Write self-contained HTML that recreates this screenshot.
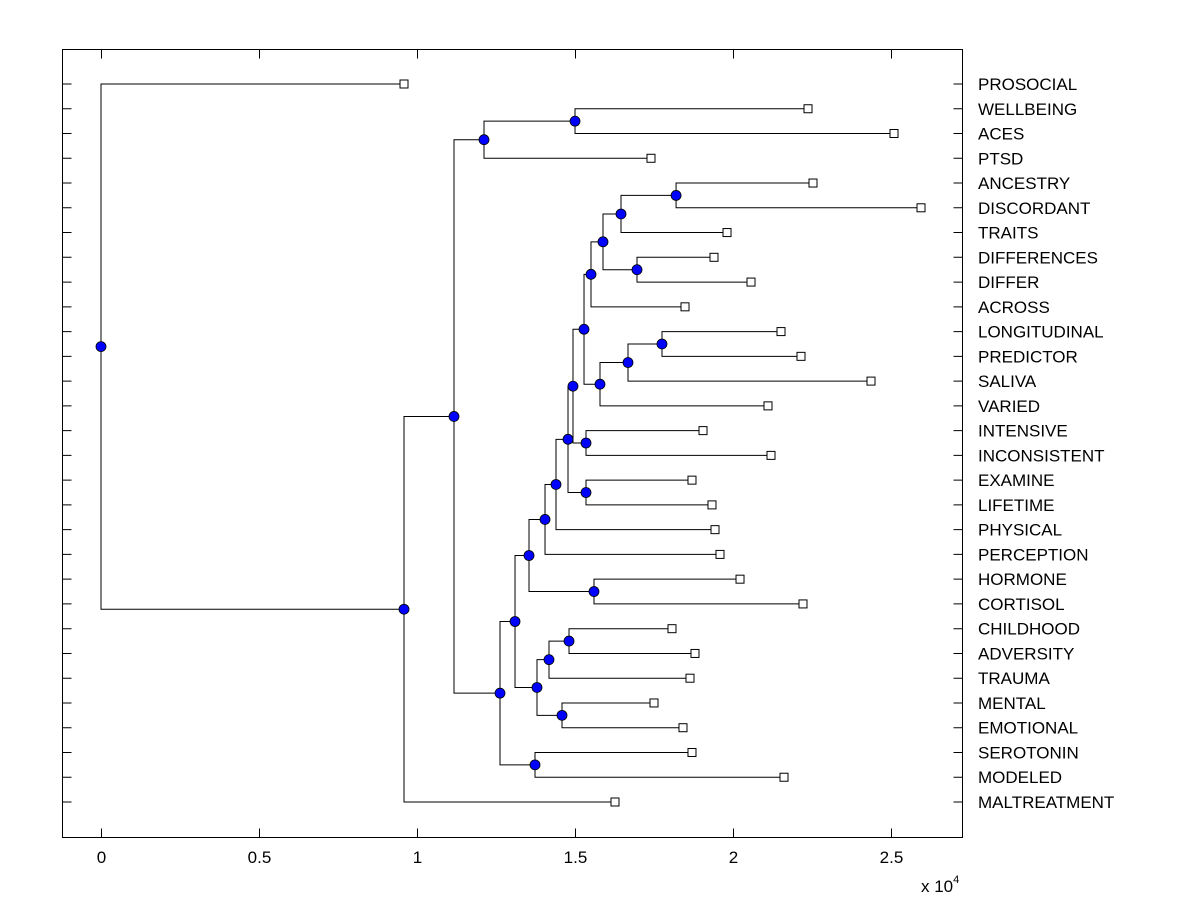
<!DOCTYPE html>
<html><head><meta charset="utf-8"><style>
body{margin:0;background:#fff;}
svg text{font-family:"Liberation Sans",Arial,sans-serif;font-size:17px;fill:#000;}
</style></head><body>
<svg id="chart" width="1200" height="900" xmlns="http://www.w3.org/2000/svg">
<rect x="0" y="0" width="1200" height="900" fill="#fff"/>
<g id="links"></g>
<g id="marks"></g>
<rect x="62.5" y="49.5" width="900" height="788" fill="none" stroke="#000" stroke-width="1"/>
<g id="axes"></g>
<text x="921" y="892" font-size="16">x 10<tspan dy="-9" font-size="11">4</tspan></text>
</svg>
<script>
const leafLabels = ["PROSOCIAL","WELLBEING","ACES","PTSD","ANCESTRY","DISCORDANT","TRAITS","DIFFERENCES","DIFFER","ACROSS","LONGITUDINAL","PREDICTOR","SALIVA","VARIED","INTENSIVE","INCONSISTENT","EXAMINE","LIFETIME","PHYSICAL","PERCEPTION","HORMONE","CORTISOL","CHILDHOOD","ADVERSITY","TRAUMA","MENTAL","EMOTIONAL","SEROTONIN","MODELED","MALTREATMENT"];
const leafValues = [9595,22388,25111,17416,22546,25966,19823,19411,20583,18493,21533,22166,24383,21121,19063,21216,18714,19347,19443,19601,20235,22229,18081,18809,18651,17511,18429,18714,21628,16276];
const mergeLeft  = [4,30,7,31,33,10,35,36,34,14,38,16,40,42,43,20,44,22,47,25,48,46,27,51,1,54,55,56,0];
const mergeRight = [5,6,8,32,9,11,12,13,37,15,39,17,41,18,19,21,45,23,24,26,49,50,28,52,2,3,53,29,57];
const mergeHeight= [18210,16466,16973,15896,15516,17764,16688,15801,15295,15358,14946,15358,14788,14408,14060,15611,13553,14820,14186,14598,13806,13110,13743,12635,15010,12128,11178,9595,0];
const xTicks = [0,5000,10000,15000,20000,25000];
const xTickLabels = ["0","0.5","1","1.5","2","2.5"];

const NS="http://www.w3.org/2000/svg";
const X0=101, XS=315.8/10000, Y0=84, YS=(802-84)/29;
const xs=v=>X0+v*XS, ys=i=>Y0+i*YS;
function mk(tag,attrs,parent){const e=document.createElementNS(NS,tag);for(const k in attrs)e.setAttribute(k,attrs[k]);parent.appendChild(e);return e;}
const links=document.getElementById('links'), marks=document.getElementById('marks'), axes=document.getElementById('axes');
const nx=[], ny=[];
leafValues.forEach((v,i)=>{nx[i]=xs(v);ny[i]=ys(i);});
const n=leafValues.length;
mergeHeight.forEach((h,k)=>{
  const id=n+k,a=mergeLeft[k],b=mergeRight[k];
  nx[id]=xs(h);ny[id]=(ny[a]+ny[b])/2;
  const p=mk('path',{d:`M${nx[a]} ${ny[a]}H${nx[id]}V${ny[b]}H${nx[b]}`,fill:'none',stroke:'#000','stroke-width':1},links);
  
  
});
leafValues.forEach((v,i)=>{
  const r=mk('rect',{x:nx[i]-4,y:ny[i]-4,width:8,height:8,fill:'#fff',stroke:'#000','stroke-width':1},marks);
  
  
  const t=mk('text',{x:978,y:ny[i]+6},axes);t.textContent=leafLabels[i];
  
  
  const tk=mk('path',{d:`M62.5 ${ny[i]}h9M962.5 ${ny[i]}h-9`,stroke:'#000','stroke-width':1},axes);
  
  
});
mergeHeight.forEach((h,k)=>{
  const id=n+k;
  const c=mk('circle',{cx:nx[id],cy:ny[id],r:5,fill:'#0000ff',stroke:'#000','stroke-width':0.8},marks);
  
  
});
xTicks.forEach((v,i)=>{
  const x=Math.round(xs(v))+0.5;
  const tk=mk('path',{d:`M${x} 837.5v-9M${x} 49.5v9`,stroke:'#000','stroke-width':1},axes);
  
  
  const t=mk('text',{x:x,y:863,'text-anchor':'middle','font-size':16},axes);t.textContent=xTickLabels[i];
  
  
});
</script>
</body></html>
